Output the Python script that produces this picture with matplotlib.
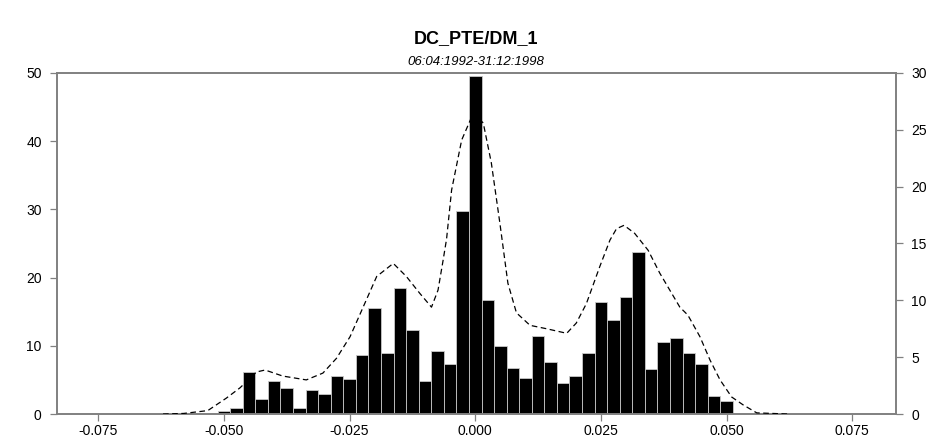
import matplotlib
matplotlib.use("Agg")
import matplotlib.pyplot as plt

plt.rcParams["font.family"] = ["Liberation Sans", "DejaVu Sans"]

# ヒストグラム (左軸): ビン中心 = k * 0.0025, k = -20..20
bin_width = 0.0025
bin_index = list(range(-20, 21))
bin_counts = [0.4, 0.9, 6.1, 2.2, 4.8, 3.8, 0.9, 3.5, 3.0, 5.6,
              5.1, 8.7, 15.6, 8.9, 18.5, 12.3, 4.8, 9.2, 7.4, 29.8,
              49.5, 16.7, 9.9, 6.8, 5.3, 11.5, 7.6, 4.5, 5.5, 8.9,
              16.4, 13.8, 17.2, 23.7, 6.6, 10.5, 11.2, 8.9, 7.4, 2.7, 1.9]

# 密度曲線 (右軸)
dens_x = [-0.0621, -0.058, -0.0532, -0.0495, -0.0468, -0.0435, -0.0418, -0.0383,
          -0.0336, -0.0303, -0.0276, -0.0249, -0.0223, -0.0196, -0.0163, -0.0137,
          -0.011, -0.0087, -0.0074, -0.0064, -0.0057, -0.0047, -0.0027, -0.0004,
          0.0016, 0.0032, 0.0049, 0.0065, 0.0082, 0.0109, 0.0142, 0.0182,
          0.0201, 0.0221, 0.0248, 0.0268, 0.0281, 0.0296, 0.0317, 0.0344,
          0.0367, 0.0387, 0.0407, 0.0423, 0.0447, 0.0467, 0.0487, 0.051,
          0.0533, 0.056, 0.0622]
dens_y = [0.0, 0.05, 0.3, 1.4, 2.3, 3.7, 3.87, 3.34,
          3.0, 3.6, 4.9, 6.8, 9.4, 12.1, 13.25, 12.1,
          10.6, 9.4, 10.9, 13.5, 15.4, 19.7, 24.1, 26.45,
          25.6, 22.1, 16.8, 11.5, 8.9, 7.8, 7.5, 7.1,
          8.0, 9.7, 13.0, 15.3, 16.3, 16.6, 15.9, 14.4,
          12.4, 10.9, 9.4, 8.7, 6.8, 4.75, 3.0, 1.5,
          0.8, 0.1, 0.0]

x_ticks = [-0.075, -0.050, -0.025, 0.000, 0.025, 0.050, 0.075]
left_ticks = [0, 10, 20, 30, 40, 50]
right_ticks = [0, 5, 10, 15, 20, 25, 30]

title = "DC_PTE/DM_1"
subtitle = "06:04:1992-31:12:1998"

spine_color = "#808080"

fig = plt.figure(figsize=(9.4, 4.41), dpi=100)
ax = fig.add_axes([0.0606, 0.0612, 0.8926, 0.7733])

centers = [k * bin_width for k in bin_index]
ax.bar(centers, bin_counts, width=bin_width, color="black",
       edgecolor="#c8c8c8", linewidth=0.6, zorder=2)

ax.set_xlim(-0.0832, 0.0837)
ax.set_ylim(0, 50)
ax.set_xticks(x_ticks)
ax.set_xticklabels([f"{t:.3f}" for t in x_ticks])
ax.set_yticks(left_ticks)

ax2 = ax.twinx()
ax2.plot(dens_x, dens_y, color="black", linewidth=0.9,
         linestyle=(0, (4.5, 2.8)), zorder=3)
ax2.set_ylim(0, 30)
ax2.set_yticks(right_ticks)

for a in (ax, ax2):
    for s in a.spines.values():
        s.set_color(spine_color)
        s.set_linewidth(1.2)
    a.tick_params(axis="both", direction="out", length=5, width=0.9,
                  color=spine_color, labelsize=10, pad=6, labelcolor="black")
ax.tick_params(axis="x", pad=2)

fig.text(0.5065, 0.913, title, ha="center", va="center",
         fontsize=13, fontweight="bold")
fig.text(0.5065, 0.86, subtitle, ha="center", va="center",
         fontsize=9.5, fontstyle="italic")

fig.savefig("out.png", dpi=100)
